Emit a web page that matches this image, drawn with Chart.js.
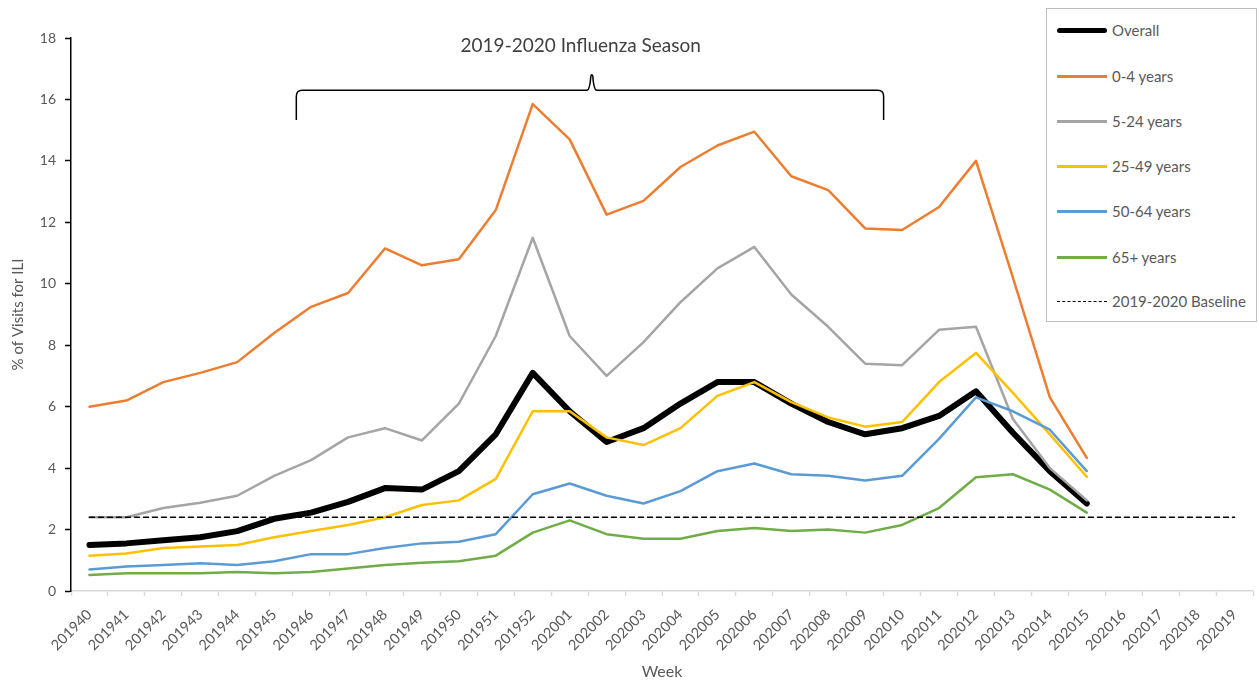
<!DOCTYPE html>
<html>
<head>
<meta charset="utf-8">
<script src="https://cdn.jsdelivr.net/npm/chart.js@4/dist/chart.umd.min.js"></script>
<style>
  body { margin: 0; background: #fff; font-family: Lato, "Open Sans", sans-serif; }
  #wrap { position: relative; width: 1259px; height: 681px; }
  #legend {
    position: absolute; left: 1046px; top: 8px; width: 211px; height: 314px;
    border: 1px solid #bfbfbf; background: #fff; box-sizing: border-box;
  }
  .row { position: absolute; left: 10px; height: 20px; display: flex; align-items: center; }
  .swatch { width: 50px; margin-right: 5px; }
  .label { font-size: 15px; color: #595959; white-space: nowrap; }
</style>
</head>
<body>
<div id="wrap">
  <canvas id="iliChart" width="1259" height="681"></canvas>
  <div id="legend"></div>
</div>
<script>
// week labels along the x axis
const weeks = ['201940', '201941', '201942', '201943', '201944', '201945', '201946', '201947', '201948', '201949',
    '201950', '201951', '201952', '202001', '202002', '202003', '202004', '202005', '202006', '202007',
    '202008', '202009', '202010', '202011', '202012', '202013', '202014', '202015', '202016', '202017',
    '202018', '202019'];

// % of visits for ILI
const overall = [1.5, 1.55, 1.65, 1.75, 1.95, 2.35, 2.55, 2.9, 3.35, 3.3, 3.9, 5.1, 7.1, 5.85, 4.85, 5.3, 6.1, 6.8, 6.8, 6.1, 5.5, 5.1, 5.3, 5.7, 6.5, 5.15, 3.9, 2.85];
const age0to4 = [6.0, 6.2, 6.8, 7.1, 7.45, 8.4, 9.25, 9.7, 11.15, 10.6, 10.8, 12.4, 15.85, 14.7, 12.25, 12.7, 13.8, 14.5, 14.95, 13.5, 13.05, 11.8, 11.75, 12.5, 14.0, 10.2, 6.3, 4.33];
const age5to24 = [2.4, 2.4, 2.7, 2.87, 3.1, 3.75, 4.26, 5.0, 5.3, 4.9, 6.1, 8.3, 11.5, 8.3, 7.0, 8.1, 9.4, 10.5, 11.2, 9.65, 8.6, 7.4, 7.35, 8.5, 8.6, 5.6, 4.0, 2.95];
const age25to49 = [1.15, 1.22, 1.4, 1.45, 1.5, 1.75, 1.95, 2.15, 2.4, 2.8, 2.95, 3.65, 5.85, 5.85, 5.0, 4.75, 5.3, 6.35, 6.8, 6.15, 5.65, 5.35, 5.5, 6.8, 7.75, 6.45, 5.1, 3.72];
const age50to64 = [0.7, 0.8, 0.85, 0.9, 0.85, 0.97, 1.2, 1.2, 1.4, 1.55, 1.6, 1.85, 3.15, 3.5, 3.1, 2.85, 3.25, 3.9, 4.15, 3.8, 3.75, 3.6, 3.75, 4.95, 6.3, 5.85, 5.25, 3.9];
const age65plus = [0.52, 0.58, 0.58, 0.58, 0.62, 0.58, 0.62, 0.73, 0.85, 0.92, 0.97, 1.15, 1.9, 2.3, 1.85, 1.7, 1.7, 1.95, 2.05, 1.95, 2.0, 1.9, 2.15, 2.7, 3.7, 3.8, 3.3, 2.55];
const baseline = [2.4, 2.4, 2.4, 2.4, 2.4, 2.4, 2.4, 2.4, 2.4, 2.4, 2.4, 2.4, 2.4, 2.4, 2.4, 2.4,
    2.4, 2.4, 2.4, 2.4, 2.4, 2.4, 2.4, 2.4, 2.4, 2.4, 2.4, 2.4, 2.4, 2.4, 2.4, 2.4];

const yTicks = [0, 2, 4, 6, 8, 10, 12, 14, 16, 18];

// brace + "season" label above the lines
const seasonBrace = {
    id: 'seasonBrace',
    afterDatasetsDraw(chart) {
        const { ctx, scales: { x, y } } = chart;
        const x1 = x.getPixelForValue(5.6);
        const x2 = x.getPixelForValue(21.5);
        const xm = x.getPixelForValue(13.6);
        const yTop = y.getPixelForValue(16.3);
        const yEnd = y.getPixelForValue(15.33);
        const yPeak = y.getPixelForValue(16.85);
        const r = 6;
        ctx.save();
        ctx.strokeStyle = '#000';
        ctx.lineWidth = 1.5;
        ctx.beginPath();
        ctx.moveTo(x1, yEnd);
        ctx.lineTo(x1, yTop + r);
        ctx.quadraticCurveTo(x1, yTop, x1 + r, yTop);
        ctx.lineTo(xm - 5, yTop);
        ctx.quadraticCurveTo(xm - 2, yTop, xm - 1, yPeak + 3);
        ctx.quadraticCurveTo(xm, yPeak, xm + 1, yPeak + 3);
        ctx.quadraticCurveTo(xm + 2, yTop, xm + 5, yTop);
        ctx.lineTo(x2 - r, yTop);
        ctx.quadraticCurveTo(x2, yTop, x2, yTop + r);
        ctx.lineTo(x2, yEnd);
        ctx.stroke();

        ctx.fillStyle = '#404040';
        ctx.font = '19px Lato, "Open Sans", sans-serif';
        ctx.textAlign = 'center';
        ctx.textBaseline = 'middle';
        ctx.fillText('2019-2020 Influenza Season', x.getPixelForValue(13.3), y.getPixelForValue(17.75));
        ctx.restore();
    }
};

const ctx = document.getElementById('iliChart').getContext('2d');
const chart = new Chart(ctx, {
    type: 'line',
    data: {
        labels: weeks,
        datasets: [
            { label: 'Overall', data: overall, borderColor: '#000000', borderWidth: 6, order: 6 },
            { label: '0-4 years', data: age0to4, borderColor: '#ED7D31', borderWidth: 2.5, order: 5 },
            { label: '5-24 years', data: age5to24, borderColor: '#A5A5A5', borderWidth: 2.5, order: 4 },
            { label: '25-49 years', data: age25to49, borderColor: '#FFC000', borderWidth: 2.5, order: 3 },
            { label: '50-64 years', data: age50to64, borderColor: '#5B9BD5', borderWidth: 2.5, order: 2 },
            { label: '65+ years', data: age65plus, borderColor: '#70AD47', borderWidth: 2.5, order: 1 },
            { label: '2019-2020 Baseline', data: baseline, borderColor: '#000000', borderWidth: 1.5, borderDash: [5, 4], order: 0 }
        ]
    },
    options: {
        responsive: false,
        animation: false,
        devicePixelRatio: 1,
        layout: { padding: { top: 38, right: 6, left: 0, bottom: 0 } },
        elements: {
            point: { radius: 0 },
            line: { tension: 0, fill: false, borderJoinStyle: 'round', borderCapStyle: 'round' }
        },
        plugins: {
            legend: { display: false },
            tooltip: { enabled: false }
        },
        scales: {
            x: {
                offset: true,
                afterFit: scale => { scale.height = 90; },
                grid: { display: true, offset: true, drawOnChartArea: false, tickLength: 5, tickColor: '#d9d9d9', tickWidth: 1.5 },
                border: { display: true, color: '#d9d9d9', width: 1.5 },
                ticks: {
                    color: '#595959', font: { family: 'Lato', size: 14.5 },
                    minRotation: 45, maxRotation: 45, autoSkip: false, padding: 10
                },
                title: {
                    display: true, text: 'Week', color: '#595959',
                    font: { family: 'Lato', size: 16 }, padding: { top: 0, bottom: 0 }
                }
            },
            y: {
                min: 0,
                max: 18,
                afterFit: scale => { scale.width = 71; },
                afterBuildTicks: scale => { scale.ticks = yTicks.map(v => ({ value: v })); },
                grid: { display: true, drawOnChartArea: false, tickLength: 6, tickColor: '#000', tickWidth: 1.5 },
                border: { display: true, color: '#000', width: 1.5 },
                ticks: { color: '#595959', font: { family: 'Lato', size: 14 }, padding: 9 },
                title: {
                    display: true, text: '% of Visits for ILI', color: '#595959',
                    font: { family: 'Lato', size: 15 }, padding: { top: 9, bottom: 0 }
                }
            }
        }
    },
    plugins: [seasonBrace]
});

// html legend built from the datasets
const legendBox = document.getElementById('legend');
const rowTops = [11, 57, 102, 147, 192, 238, 282];
chart.data.datasets.forEach((ds, i) => {
    const row = document.createElement('div');
    row.className = 'row';
    row.style.top = rowTops[i] + 'px';
    const sw = document.createElement('div');
    sw.className = 'swatch';
    const style = ds.borderDash ? 'dashed' : 'solid';
    const w = ds.borderDash ? 1.5 : (ds.borderWidth > 3 ? 5 : 3);
    sw.style.borderTop = w + 'px ' + style + ' ' + ds.borderColor;
    if (ds.borderWidth > 3) sw.style.borderRadius = '3px';
    const lb = document.createElement('span');
    lb.className = 'label';
    lb.textContent = ds.label;
    row.appendChild(sw);
    row.appendChild(lb);
    legendBox.appendChild(row);
});
</script>
</body>
</html>
